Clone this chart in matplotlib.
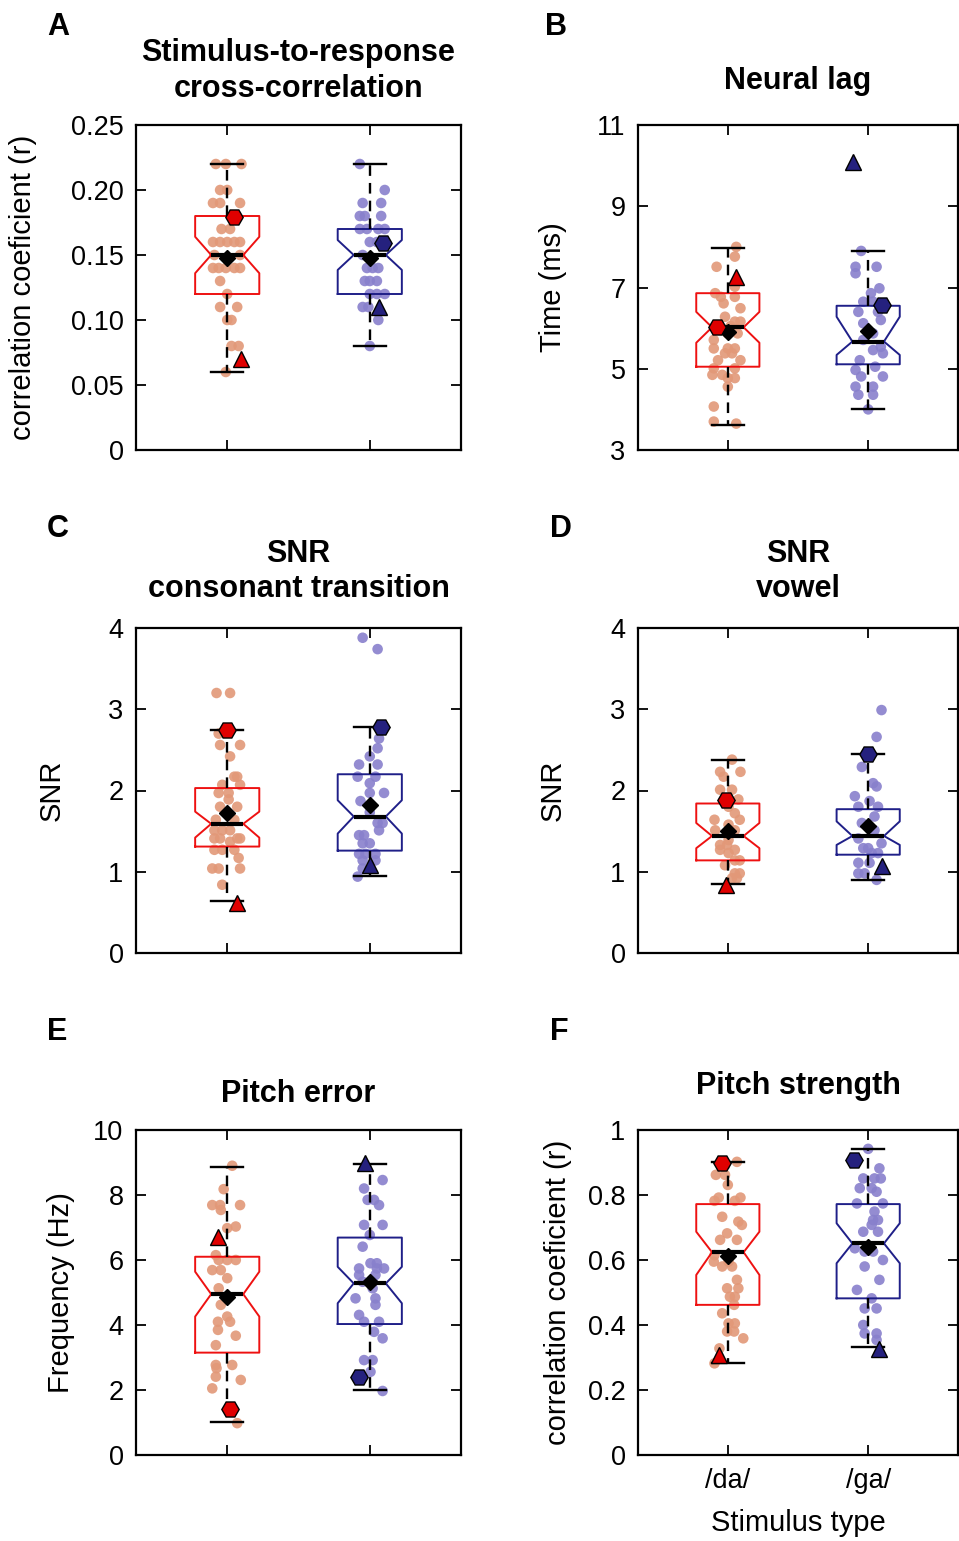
import matplotlib
matplotlib.use("Agg")
import matplotlib.pyplot as plt

plt.rcParams['font.family'] = ['Liberation Sans', 'DejaVu Sans']

groups = ['/da/', '/ga/']
positions = [1, 2]

# box stats per group: [whislo, q1, cilo, med, cihi, q3, whishi]
# ---- A: stimulus-to-response cross-correlation
a_box = [[0.06, 0.12, 0.136, 0.15, 0.164, 0.18, 0.22],
         [0.08, 0.12, 0.1385, 0.15, 0.1615, 0.17, 0.22]]
a_mean = [0.148, 0.148]
a_hex = [0.179, 0.159]
a_hex_dx = [0.05, 0.094]
a_tri = [0.07, 0.11]
a_tri_dx = [0.094, 0.066]
a_da_y = [0.22, 0.22, 0.22, 0.20, 0.20, 0.19, 0.19, 0.19, 0.17, 0.17, 0.16, 0.16, 0.16, 0.16, 0.16,
          0.15, 0.15, 0.14, 0.14, 0.14, 0.14, 0.14, 0.13, 0.12, 0.11, 0.11, 0.10, 0.10, 0.08, 0.08, 0.06]
a_da_dx = [-0.08, -0.01, 0.10, -0.05, 0.0, -0.10, -0.05, 0.09, -0.04, 0.02, -0.10, -0.05, 0.0, 0.05, 0.09,
           -0.09, 0.09, -0.10, -0.06, -0.01, 0.05, 0.09, -0.05, 0.0, -0.05, 0.07, 0.0, 0.03, 0.03, 0.08, -0.01]
a_ga_y = [0.22, 0.20, 0.19, 0.19, 0.18, 0.18, 0.18, 0.17, 0.17, 0.17, 0.17, 0.16, 0.16, 0.15, 0.14, 0.14,
          0.14, 0.13, 0.13, 0.13, 0.12, 0.12, 0.12, 0.11, 0.11, 0.10, 0.08]
a_ga_dx = [-0.07, 0.105, -0.05, 0.08, -0.07, -0.035, 0.08, -0.07, -0.02, 0.06, 0.105, 0.0, 0.05, -0.05, -0.02, 0.02,
           0.06, -0.035, 0.0, 0.05, 0.0, 0.05, 0.105, -0.05, -0.01, 0.06, 0.0]

# ---- B: neural lag
b_box = [[3.62, 5.05, 5.64, 6.02, 6.40, 6.86, 7.97],
         [4.0, 5.11, 5.34, 5.67, 6.28, 6.55, 7.91]]
b_mean = [5.91, 5.93]
b_hex = [6.04, 6.57]
b_hex_dx = [-0.08, 0.10]
b_tri = [7.27, 10.1]
b_tri_dx = [0.06, -0.105]
b_da_y = [8.0, 7.76, 7.51, 7.02, 6.86, 6.77, 6.77, 6.61, 6.49, 6.28, 6.16, 6.16, 6.05, 5.95, 5.87, 5.87, 5.71,
          5.5, 5.5, 5.5, 5.38, 5.38, 5.21, 5.21, 5.01, 5.01, 4.85, 4.85, 4.77, 4.77, 4.56, 4.07, 3.70, 3.65]
b_da_dx = [0.06, 0.05, -0.08, 0.05, -0.09, -0.05, 0.05, -0.03, 0.09, -0.02, 0.05, 0.09, 0.02, -0.05, 0.0, 0.07, -0.10,
           -0.10, 0.0, 0.05, -0.02, 0.03, -0.07, 0.09, -0.10, 0.05, -0.11, -0.04, 0.0, 0.05, 0.0, -0.10, -0.10, 0.06]
b_ga_y = [7.9, 7.51, 7.51, 7.35, 6.98, 6.86, 6.65, 6.65, 6.4, 6.4, 6.2, 6.12, 5.87, 5.71, 5.54, 5.46, 5.38,
          5.21, 5.05, 4.97, 4.81, 4.81, 4.56, 4.56, 4.36, 4.36, 4.0]
b_ga_dx = [-0.05, -0.09, 0.06, -0.09, 0.08, 0.02, -0.035, 0.035, -0.07, 0.07, 0.09, -0.035, 0.035, -0.035, 0.09,
           0.035, 0.105, -0.06, 0.05, -0.09, -0.05, 0.105, -0.09, 0.035, -0.07, 0.035, 0.0]

# ---- C: SNR consonant transition
c_box = [[0.64, 1.31, 1.42, 1.59, 1.74, 2.03, 2.75],
         [0.95, 1.26, 1.47, 1.68, 1.88, 2.20, 2.78]]
c_mean = [1.72, 1.82]
c_hex = [2.74, 2.78]
c_hex_dx = [0.0, 0.08]
c_tri = [0.62, 1.08]
c_tri_dx = [0.07, 0.0]
c_da_y = [3.2, 3.2, 2.7, 2.56, 2.56, 2.42, 2.17, 2.17, 2.07, 2.07, 1.97, 1.97, 1.89, 1.8, 1.8, 1.64, 1.64,
          1.51, 1.51, 1.51, 1.41, 1.41, 1.41, 1.41, 1.37, 1.27, 1.27, 1.27, 1.17, 1.04, 1.04, 1.04, 0.84]
c_da_dx = [-0.075, 0.02, -0.06, -0.05, 0.09, 0.02, 0.05, 0.07, -0.035, 0.09, -0.06, 0.01, 0.01, -0.05, 0.07, -0.08,
           0.05, -0.09, -0.035, 0.02, -0.09, -0.05, 0.07, 0.09, 0.02, -0.09, -0.035, 0.05, 0.08, -0.105, -0.06, 0.09,
           -0.035]
c_ga_y = [3.88, 3.74, 2.64, 2.52, 2.42, 2.32, 2.32, 2.17, 2.17, 2.09, 1.97, 1.97, 1.87, 1.73, 1.6, 1.6, 1.51,
          1.45, 1.45, 1.35, 1.35, 1.22, 1.22, 1.22, 1.14, 1.14, 1.04, 0.94]
c_ga_dx = [-0.05, 0.055, 0.065, 0.055, 0.0, -0.075, 0.055, -0.085, 0.04, 0.0, 0.0, 0.1, -0.065, 0.0, 0.055, 0.09,
           0.065, -0.075, -0.04, -0.05, 0.0, -0.075, -0.03, 0.04, -0.05, 0.04, -0.05, -0.085]

# ---- D: SNR vowel
d_box = [[0.85, 1.14, 1.29, 1.44, 1.60, 1.84, 2.38],
         [0.90, 1.21, 1.33, 1.44, 1.62, 1.77, 2.45]]
d_mean = [1.5, 1.56]
d_hex = [1.88, 2.45]
d_hex_dx = [-0.015, 0.0]
d_tri = [0.84, 1.07]
d_tri_dx = [-0.015, 0.10]
d_da_y = [2.38, 2.23, 2.23, 2.17, 2.01, 2.01, 1.89, 1.80, 1.72, 1.64, 1.64, 1.58, 1.51, 1.51, 1.51, 1.39, 1.33,
          1.33, 1.27, 1.27, 1.23, 1.14, 1.14, 1.08, 0.98, 0.98, 0.92, 0.92]
d_da_dx = [0.03, -0.055, 0.09, -0.03, -0.055, 0.03, 0.075, 0.005, 0.05, -0.095, 0.085, 0.005, -0.09, 0.005, 0.05,
           0.005, -0.055, -0.005, -0.055, 0.05, 0.005, 0.05, 0.085, -0.02, 0.05, 0.085, 0.03, 0.065]
d_ga_y = [2.99, 2.66, 2.29, 2.09, 2.05, 1.93, 1.87, 1.80, 1.80, 1.68, 1.60, 1.51, 1.41, 1.35, 1.29, 1.29, 1.23,
          1.23, 1.11, 1.11, 0.98, 0.98, 0.90]
d_ga_dx = [0.095, 0.06, -0.045, 0.035, 0.06, -0.095, 0.01, -0.07, 0.07, 0.045, -0.045, 0.045, -0.07, 0.095, -0.035,
           0.0, 0.025, 0.07, -0.07, 0.01, -0.07, -0.025, 0.06]

# ---- E: pitch error
e_box = [[1.03, 3.15, 4.26, 4.95, 5.64, 6.10, 8.87],
         [2.0, 4.03, 4.67, 5.28, 5.79, 6.69, 8.95]]
e_mean = [4.87, 5.33]
e_hex = [1.42, 2.39]
e_hex_dx = [0.02, -0.075]
e_tri = [6.72, 8.97]
e_tri_dx = [-0.065, -0.035]
e_da_y = [8.9, 8.18, 7.69, 7.69, 7.69, 7.54, 7.03, 6.98, 6.15, 6.0, 6.0, 6.0, 5.69, 5.69, 5.44, 5.13, 4.62, 4.26,
          4.10, 4.10, 3.85, 3.67, 3.38, 2.77, 2.77, 2.67, 2.41, 2.31, 2.05, 0.98]
e_da_dx = [0.035, -0.025, -0.105, -0.05, 0.09, -0.045, 0.06, 0.0, -0.08, -0.06, 0.0, 0.06, -0.105, -0.045, 0.0,
           -0.06, -0.045, 0.0, -0.065, 0.02, -0.065, 0.06, -0.08, -0.08, 0.035, -0.075, -0.08, 0.095, -0.105, 0.07]
e_ga_y = [8.46, 8.2, 7.85, 7.85, 7.69, 7.08, 7.08, 6.77, 6.41, 5.9, 5.9, 5.74, 5.74, 5.74, 5.54, 5.54, 5.33, 5.33,
          5.13, 4.82, 4.82, 4.62, 4.31, 4.1, 4.1, 3.79, 3.59, 2.92, 2.92, 2.56, 1.97]
e_ga_dx = [0.09, -0.04, -0.015, 0.03, 0.065, -0.04, 0.09, 0.0, -0.05, 0.005, 0.05, -0.075, 0.05, 0.1, -0.075, 0.04,
           -0.05, 0.02, 0.02, -0.1, 0.04, 0.04, -0.075, -0.04, 0.065, 0.03, 0.09, -0.04, 0.02, 0.005, 0.09]

# ---- F: pitch strength
f_box = [[0.284, 0.462, 0.554, 0.624, 0.687, 0.772, 0.902],
         [0.333, 0.482, 0.590, 0.651, 0.713, 0.772, 0.942]]
f_mean = [0.612, 0.641]
f_hex = [0.90, 0.908]
f_hex_dx = [-0.04, -0.10]
f_tri = [0.308, 0.326]
f_tri_dx = [-0.06, 0.08]
f_da_y = [0.902, 0.862, 0.862, 0.831, 0.792, 0.792, 0.782, 0.782, 0.733, 0.718, 0.708, 0.682, 0.662, 0.662, 0.615,
          0.595, 0.595, 0.58, 0.58, 0.539, 0.513, 0.513, 0.487, 0.487, 0.462, 0.436, 0.405, 0.405, 0.38, 0.38, 0.359,
          0.328, 0.282]
f_da_dx = [0.065, -0.085, -0.02, 0.0, -0.065, 0.09, -0.095, 0.05, -0.04, 0.075, 0.1, -0.005, -0.055, 0.065, -0.095,
           -0.1, 0.005, -0.04, 0.03, 0.065, -0.005, 0.075, 0.015, 0.05, 0.045, -0.04, 0.005, 0.05, -0.005, 0.045, 0.11,
           -0.06, -0.095]
f_ga_y = [0.942, 0.882, 0.851, 0.851, 0.851, 0.821, 0.821, 0.81, 0.774, 0.774, 0.749, 0.723, 0.723, 0.708, 0.687,
          0.687, 0.636, 0.626, 0.626, 0.6, 0.58, 0.539, 0.508, 0.482, 0.451, 0.451, 0.4, 0.374, 0.374, 0.354]
f_ga_dx = [0.0, 0.08, -0.035, 0.045, 0.09, -0.06, 0.025, 0.06, -0.08, 0.105, 0.045, 0.035, 0.07, 0.025, -0.035,
           0.07, -0.095, -0.025, 0.035, 0.105, -0.025, 0.08, -0.08, 0.025, -0.025, 0.06, -0.035, -0.025, 0.06, 0.06]

box_cols = ['#ee1111', '#1f1f88']
dot_cols = ['#e29878', '#8880cc']
mark_cols = ['#e00000', '#25217e']

fig = plt.figure(figsize=(9.59, 15.41), dpi=100)
W, H = 959.0, 1541.0


def add_axes(left, top, width, height):
    return fig.add_axes([left / W, 1 - (top + height) / H, width / W, height / H])


def draw(ax, box, mean, hexv, hex_dx, tri, tri_dx, da_y, da_dx, ga_y, ga_dx):
    for k, (ys, dxs) in enumerate([(da_y, da_dx), (ga_y, ga_dx)]):
        ax.scatter([positions[k] + d for d in dxs], ys, s=58, color=dot_cols[k],
                   edgecolors='none', alpha=0.9, zorder=1)
    for k in range(2):
        b = box[k]
        st = dict(whislo=b[0], q1=b[1], cilo=b[2], med=b[3], cihi=b[4], q3=b[5], whishi=b[6], fliers=[])
        ax.bxp([st], positions=[positions[k]], widths=0.45, shownotches=True, showfliers=False,
               manage_ticks=False,
               boxprops=dict(color=box_cols[k], lw=1.4),
               whiskerprops=dict(color='k', lw=1.7, ls=(0, (4.5, 3))),
               capprops=dict(color='k', lw=1.7),
               medianprops=dict(color='k', lw=3.0))
        ax.plot(positions[k], mean[k], 'D', ms=8, color='k', zorder=4)
        ax.plot(positions[k] + hex_dx[k], hexv[k], 'H', ms=12.5, mfc=mark_cols[k], mec='k', mew=1.0, zorder=5)
        ax.plot(positions[k] + tri_dx[k], tri[k], '^', ms=11, mfc=mark_cols[k], mec='k', mew=1.0, zorder=5)


def style(ax, ylim, yticks, yticklabels, title, pad, ylabel, ylab_x, show_x=False):
    ax.set_xlim(0.36, 2.64)
    ax.set_ylim(*ylim)
    ax.set_yticks(yticks)
    ax.set_yticklabels(yticklabels)
    ax.set_xticks(positions)
    ax.set_xticklabels(groups if show_x else ['', ''])
    ax.tick_params(direction='in', top=True, right=True, length=7, width=1.3, labelsize=19.5, pad=9)
    for s in ax.spines.values():
        s.set_linewidth(1.6)
    ax.set_title(title, fontsize=22, fontweight='bold', pad=pad, linespacing=1.25)
    ax.set_ylabel(ylabel, fontsize=21)
    ax.yaxis.set_label_coords(ylab_x, 0.5)


axA = add_axes(136, 125, 325, 325)
draw(axA, a_box, a_mean, a_hex, a_hex_dx, a_tri, a_tri_dx, a_da_y, a_da_dx, a_ga_y, a_ga_dx)
style(axA, (0, 0.25), [0, 0.05, 0.10, 0.15, 0.20, 0.25], ['0', '0.05', '0.10', '0.15', '0.20', '0.25'],
      'Stimulus-to-response\ncross-correlation', 20, 'correlation coeficient (r)', -0.305)

axB = add_axes(638, 125, 320, 325)
draw(axB, b_box, b_mean, b_hex, b_hex_dx, b_tri, b_tri_dx, b_da_y, b_da_dx, b_ga_y, b_ga_dx)
style(axB, (3, 11), [3, 5, 7, 9, 11], ['3', '5', '7', '9', '11'], 'Neural lag', 26, 'Time (ms)', -0.222)

axC = add_axes(136, 628, 325, 325)
draw(axC, c_box, c_mean, c_hex, c_hex_dx, c_tri, c_tri_dx, c_da_y, c_da_dx, c_ga_y, c_ga_dx)
style(axC, (0, 4), [0, 1, 2, 3, 4], ['0', '1', '2', '3', '4'], 'SNR\nconsonant transition', 22, 'SNR', -0.215)

axD = add_axes(638, 628, 320, 325)
draw(axD, d_box, d_mean, d_hex, d_hex_dx, d_tri, d_tri_dx, d_da_y, d_da_dx, d_ga_y, d_ga_dx)
style(axD, (0, 4), [0, 1, 2, 3, 4], ['0', '1', '2', '3', '4'], 'SNR\nvowel', 22, 'SNR', -0.222)

axE = add_axes(136, 1130, 325, 325)
draw(axE, e_box, e_mean, e_hex, e_hex_dx, e_tri, e_tri_dx, e_da_y, e_da_dx, e_ga_y, e_ga_dx)
style(axE, (0, 10), [0, 2, 4, 6, 8, 10], ['0', '2', '4', '6', '8', '10'], 'Pitch error', 20,
      'Frequency (Hz)', -0.188)

axF = add_axes(638, 1130, 320, 325)
draw(axF, f_box, f_mean, f_hex, f_hex_dx, f_tri, f_tri_dx, f_da_y, f_da_dx, f_ga_y, f_ga_dx)
style(axF, (0, 1), [0, 0.2, 0.4, 0.6, 0.8, 1.0], ['0', '0.2', '0.4', '0.6', '0.8', '1'], 'Pitch strength', 26,
      'correlation coeficient (r)', -0.206, show_x=True)
axF.set_xlabel('Stimulus type', fontsize=21)
axF.xaxis.set_label_coords(0.5, -0.165)

for letter, x, y in [('A', 47, 35), ('B', 545, 35), ('C', 47, 537), ('D', 550, 537), ('E', 47, 1040),
                     ('F', 550, 1040)]:
    fig.text(x / W, 1 - y / H, letter, fontsize=22, fontweight='bold', ha='left', va='baseline')

fig.savefig('out.png', dpi=100)
